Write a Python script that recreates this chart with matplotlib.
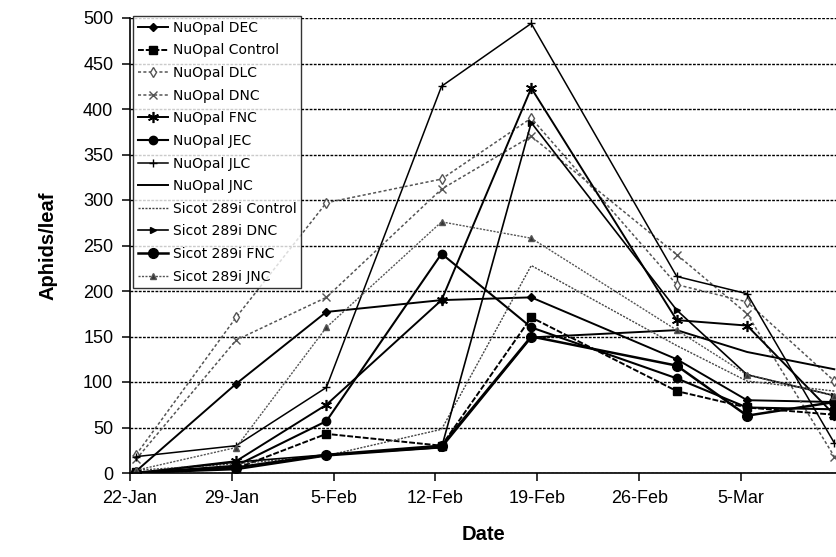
import matplotlib
matplotlib.use("Agg")
import matplotlib.pyplot as plt
import matplotlib.dates as mdates
import pandas as pd
import numpy as np

sample_dates = pd.to_datetime([
    "2007-01-22 10:00", "2007-01-29 07:00", "2007-02-04 12:00", "2007-02-12 10:00",
    "2007-02-18 14:00", "2007-02-28 14:00", "2007-03-05 10:00", "2007-03-11 10:00",
])
tick_dates = pd.to_datetime(["2007-01-22", "2007-01-29", "2007-02-05", "2007-02-12",
                             "2007-02-19", "2007-02-26", "2007-03-05"])

nuopal_dec     = [2, 98, 177, 190, 193, 125, 80, 78]
nuopal_control = [1, 5, 43, 30, 171, 90, 72, 64]
nuopal_dlc     = [20, 171, 297, 323, 390, 207, 188, 101]
nuopal_dnc     = [15, 146, 193, 312, 370, 240, 175, 18]
nuopal_fnc     = [0, 13, 75, 190, 423, 168, 162, 64]
nuopal_jec     = [0, 8, 57, 241, 160, 104, 72, 70]
nuopal_jlc     = [18, 30, 94, 425, 494, 216, 197, 33]
nuopal_jnc     = [0, 4, 19, 28, 149, 157, 133, 114]
sicot_control  = [3, 10, 19, 48, 228, 140, 101, 90]
sicot_dnc      = [0, 12, 20, 28, 385, 179, 108, 85]
sicot_fnc      = [0, 6, 20, 30, 150, 118, 63, 78]
sicot_jnc      = [3, 28, 160, 276, 258, 157, 108, 85]

labels = ["NuOpal DEC", "NuOpal Control", "NuOpal DLC", "NuOpal DNC", "NuOpal FNC",
          "NuOpal JEC", "NuOpal JLC", "NuOpal JNC", "Sicot 289i Control",
          "Sicot 289i DNC", "Sicot 289i FNC", "Sicot 289i JNC"]
series = [nuopal_dec, nuopal_control, nuopal_dlc, nuopal_dnc, nuopal_fnc, nuopal_jec,
          nuopal_jlc, nuopal_jnc, sicot_control, sicot_dnc, sicot_fnc, sicot_jnc]

styles = [
    dict(ls="-", color="black", lw=1.4, marker="D", ms=4.5, mfc="black"),
    dict(ls=(0, (3, 1)), color="black", lw=1.4, marker="s", ms=5.5, mfc="black"),
    dict(ls=(0, (2, 1.5)), color="#555555", lw=1.1, marker="d", ms=5, mfc="white"),
    dict(ls=(0, (2, 1.5)), color="#555555", lw=1.1, marker="x", ms=6, mew=1.0),
    dict(ls="-", color="black", lw=1.4, marker=(6, 2, 0), ms=8, mew=1.2),
    dict(ls="-", color="black", lw=1.5, marker="o", ms=6, mfc="black"),
    dict(ls="-", color="black", lw=1.1, marker="+", ms=6, mew=1.0),
    dict(ls="-", color="black", lw=1.4, marker=None),
    dict(ls=(0, (1.5, 1)), color="#444444", lw=1.0, marker=None),
    dict(ls="-", color="black", lw=1.2, marker=">", ms=4, mfc="black"),
    dict(ls="-", color="black", lw=1.8, marker="o", ms=7, mfc="black"),
    dict(ls=(0, (1.5, 1)), color="#555555", lw=1.0, marker="^", ms=5, mfc="#333333"),
]

W, H = 837, 557
fig = plt.figure(figsize=(W / 100, H / 100), dpi=100)
left, right, top, bottom = 130, 837, 18, 473
ax = fig.add_axes([left / W, 1 - bottom / H, (right - left) / W, (bottom - top) / H])

handles = []
for vals, lab, st in zip(series, labels, styles):
    h, = ax.plot(sample_dates, vals, label=lab, clip_on=True, **st)
    handles.append(h)

ax.set_ylim(0, 500)
ax.set_yticks(np.arange(0, 501, 50))
x0 = pd.Timestamp("2007-01-22")
ax.set_xlim(x0, x0 + pd.Timedelta(days=48.6))
ax.set_xticks(tick_dates)
ax.xaxis.set_major_formatter(mdates.DateFormatter("%-d-%b"))

ax.yaxis.grid(True, color="black", lw=1.0, ls=(0, (2, 1)))
ax.set_axisbelow(True)
for s in ["top", "right"]:
    ax.spines[s].set_visible(False)
ax.spines["left"].set_linewidth(1.2)
ax.spines["bottom"].set_linewidth(1.2)
ax.tick_params(axis="both", direction="out", length=6, width=1.1,
               labelsize=13, pad=6)
for t in ax.get_xticklabels() + ax.get_yticklabels():
    t.set_fontfamily("Liberation Sans")

ax.set_xlabel("Date", fontsize=14.5, fontweight="bold", fontfamily="Liberation Sans", labelpad=13)
ax.set_ylabel("Aphids/leaf", fontsize=14.5, fontweight="bold", fontfamily="Liberation Sans")
ax.yaxis.set_label_coords(-(130 - 58) / (right - left), 0.5)

leg = fig.legend(handles=handles, loc="upper left",
                 bbox_to_anchor=(133 / W, 1 - 16 / H),
                 frameon=True, fancybox=False, edgecolor="black",
                 prop={"family": "DejaVu Sans", "size": 10},
                 handlelength=2.2, handletextpad=0.3, labelspacing=0.62,
                 borderpad=0.35, borderaxespad=0)
leg.get_frame().set_linewidth(1.0)

fig.savefig("out.png", dpi=100)
